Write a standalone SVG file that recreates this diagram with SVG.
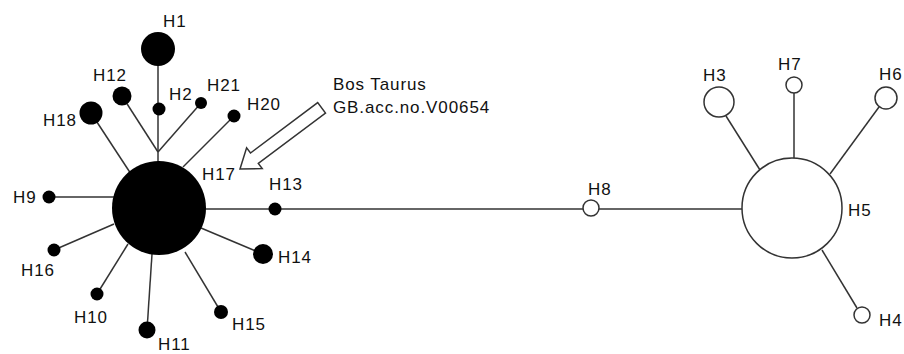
<svg xmlns="http://www.w3.org/2000/svg" width="904" height="354" viewBox="0 0 904 354">
<style>
.e{stroke:#333;stroke-width:1.5;fill:none}
.f{fill:#000}
.o{fill:#fff;stroke:#333;stroke-width:1.5}
text{font-family:"Liberation Sans",Arial,sans-serif;font-size:17px;letter-spacing:0.9px;fill:#111}
</style>
<rect width="904" height="354" fill="#fff"/>
<g id="connectors">
<line class="e" x1="158" y1="49" x2="158" y2="162"/>
<line class="e" x1="122" y1="96" x2="158" y2="152"/>
<line class="e" x1="201" y1="103" x2="158" y2="152"/>
<line class="e" x1="91" y1="113" x2="131" y2="174"/>
<line class="e" x1="234" y1="116" x2="183" y2="167"/>
<line class="e" x1="49" y1="197" x2="114" y2="197"/>
<line class="e" x1="54" y1="250" x2="114" y2="224"/>
<line class="e" x1="97" y1="294" x2="128" y2="244"/>
<line class="e" x1="147" y1="330" x2="152" y2="254"/>
<line class="e" x1="221" y1="312" x2="185" y2="252"/>
<line class="e" x1="263" y1="254" x2="201" y2="228"/>
<line class="e" x1="205" y1="209" x2="742" y2="209"/>
<line class="e" x1="726" y1="116" x2="760" y2="170"/>
<line class="e" x1="794" y1="93" x2="794" y2="158"/>
<line class="e" x1="879" y1="107" x2="830" y2="174"/>
<line class="e" x1="822" y1="250" x2="857" y2="308"/>
</g>
<g id="H17"><circle class="f" cx="159" cy="208" r="47"/><text x="202" y="180">H17</text></g>
<g id="H1"><circle class="f" cx="158" cy="49" r="17"/><text x="163" y="27">H1</text></g>
<g id="H2"><circle class="f" cx="159" cy="109" r="6.5"/><text x="169" y="100">H2</text></g>
<g id="H12"><circle class="f" cx="122" cy="96" r="9.5"/><text x="93" y="81">H12</text></g>
<g id="H21"><circle class="f" cx="201" cy="103" r="6"/><text x="207" y="91">H21</text></g>
<g id="H18"><circle class="f" cx="91" cy="113" r="11.5"/><text x="43" y="126">H18</text></g>
<g id="H20"><circle class="f" cx="234" cy="116" r="6.5"/><text x="247" y="110">H20</text></g>
<g id="H9"><circle class="f" cx="49" cy="197" r="6.5"/><text x="13" y="203">H9</text></g>
<g id="H13"><circle class="f" cx="275" cy="209" r="6.5"/><text x="269" y="190">H13</text></g>
<g id="H16"><circle class="f" cx="54" cy="250" r="6.5"/><text x="21" y="276">H16</text></g>
<g id="H14"><circle class="f" cx="263" cy="254" r="10"/><text x="278" y="263">H14</text></g>
<g id="H10"><circle class="f" cx="97" cy="294" r="6.5"/><text x="74" y="323">H10</text></g>
<g id="H11"><circle class="f" cx="147" cy="330" r="8.5"/><text x="158" y="350">H11</text></g>
<g id="H15"><circle class="f" cx="221" cy="312" r="7"/><text x="232" y="330">H15</text></g>
<g id="H8"><circle class="o" cx="591" cy="208" r="8"/><text x="588" y="195">H8</text></g>
<g id="H5"><circle class="o" cx="792" cy="208" r="50"/><text x="848" y="216">H5</text></g>
<g id="H3"><circle class="o" cx="719" cy="102" r="15"/><text x="703" y="81">H3</text></g>
<g id="H7"><circle class="o" cx="794" cy="85" r="8"/><text x="778" y="70">H7</text></g>
<g id="H6"><circle class="o" cx="886" cy="98" r="11"/><text x="879" y="80">H6</text></g>
<g id="H4"><circle class="o" cx="862" cy="315" r="8"/><text x="879" y="326">H4</text></g>
<g id="annotation">
<polygon class="o" points="240,169 246.6,147.8 250.5,153 317.7,102.6 325.5,113 258.3,163.4 262.2,168.6"/>
<text x="333" y="90">Bos Taurus</text>
<text x="333" y="113">GB.acc.no.V00654</text>
</g>
</svg>
